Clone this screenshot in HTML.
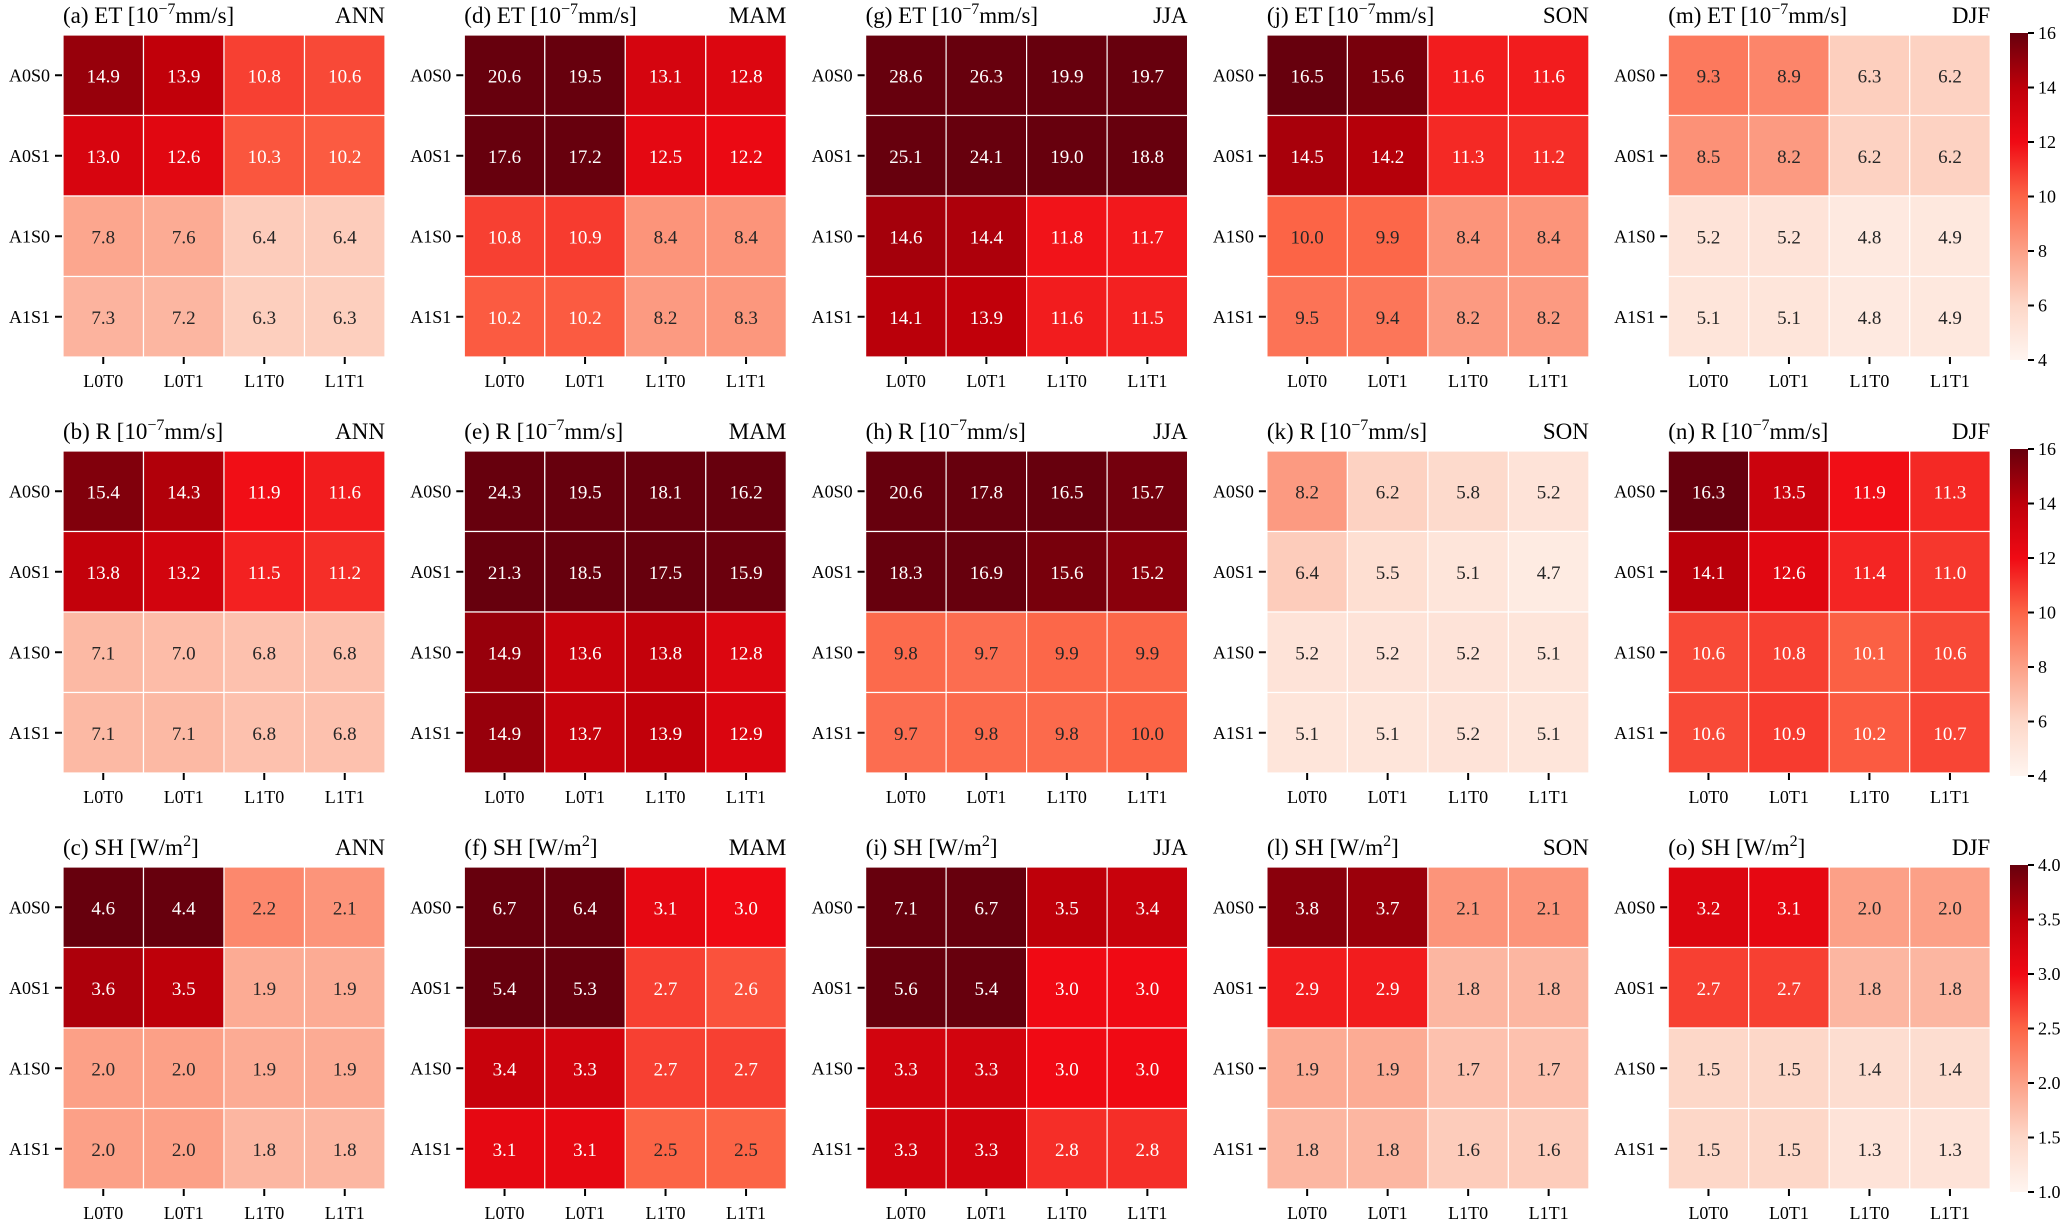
<!DOCTYPE html>
<html><head><meta charset="utf-8"><style>
body{margin:0;background:#fff}
svg{display:block;font-family:"Liberation Serif",serif}
</style></head><body>
<svg id="fig" width="2067" height="1221" viewBox="0 0 2067 1221"></svg>
<script>
const rowsLab=["A0S0","A0S1","A1S0","A1S1"];
const colsLab=["L0T0","L0T1","L1T0","L1T1"];
const seasons=["ANN","MAM","JJA","SON","DJF"];
const vars=["ET","R","SH"];
const etANN=[[14.9,13.9,10.8,10.6],[13.0,12.6,10.3,10.2],[7.8,7.6,6.4,6.4],[7.3,7.2,6.3,6.3]];
const etMAM=[[20.6,19.5,13.1,12.8],[17.6,17.2,12.5,12.2],[10.8,10.9,8.4,8.4],[10.2,10.2,8.2,8.3]];
const etJJA=[[28.6,26.3,19.9,19.7],[25.1,24.1,19.0,18.8],[14.6,14.4,11.8,11.7],[14.1,13.9,11.6,11.5]];
const etSON=[[16.5,15.6,11.6,11.6],[14.5,14.2,11.3,11.2],[10.0,9.9,8.4,8.4],[9.5,9.4,8.2,8.2]];
const etDJF=[[9.3,8.9,6.3,6.2],[8.5,8.2,6.2,6.2],[5.2,5.2,4.8,4.9],[5.1,5.1,4.8,4.9]];
const rANN=[[15.4,14.3,11.9,11.6],[13.8,13.2,11.5,11.2],[7.1,7.0,6.8,6.8],[7.1,7.1,6.8,6.8]];
const rMAM=[[24.3,19.5,18.1,16.2],[21.3,18.5,17.5,15.9],[14.9,13.6,13.8,12.8],[14.9,13.7,13.9,12.9]];
const rJJA=[[20.6,17.8,16.5,15.7],[18.3,16.9,15.6,15.2],[9.8,9.7,9.9,9.9],[9.7,9.8,9.8,10.0]];
const rSON=[[8.2,6.2,5.8,5.2],[6.4,5.5,5.1,4.7],[5.2,5.2,5.2,5.1],[5.1,5.1,5.2,5.1]];
const rDJF=[[16.3,13.5,11.9,11.3],[14.1,12.6,11.4,11.0],[10.6,10.8,10.1,10.6],[10.6,10.9,10.2,10.7]];
const shANN=[[4.6,4.4,2.2,2.1],[3.6,3.5,1.9,1.9],[2.0,2.0,1.9,1.9],[2.0,2.0,1.8,1.8]];
const shMAM=[[6.7,6.4,3.1,3.0],[5.4,5.3,2.7,2.6],[3.4,3.3,2.7,2.7],[3.1,3.1,2.5,2.5]];
const shJJA=[[7.1,6.7,3.5,3.4],[5.6,5.4,3.0,3.0],[3.3,3.3,3.0,3.0],[3.3,3.3,2.8,2.8]];
const shSON=[[3.8,3.7,2.1,2.1],[2.9,2.9,1.8,1.8],[1.9,1.9,1.7,1.7],[1.8,1.8,1.6,1.6]];
const shDJF=[[3.2,3.1,2.0,2.0],[2.7,2.7,1.8,1.8],[1.5,1.5,1.4,1.4],[1.5,1.5,1.3,1.3]];
const etTicks=[4,6,8,10,12,14,16];
const shTicks=[1.0,1.5,2.0,2.5,3.0,3.5,4.0];
const ranges=[[4,16],[4,16],[1,4]];
const data=[[etANN,etMAM,etJJA,etSON,etDJF],[rANN,rMAM,rJJA,rSON,rDJF],[shANN,shMAM,shJJA,shSON,shDJF]];

const NS="http://www.w3.org/2000/svg";
const svg=document.getElementById('fig');
const reds=[[255,245,240],[253,215,200],[252,160,135],[252,100,70],[240,10,20],[190,0,10],[103,0,13]];
const N=reds.length-1;
function cmap(t){t=Math.max(0,Math.min(1,t));const p=t*N,i=Math.min(N-1,Math.floor(p)),f=p-i;
 return reds[i].map((c,k)=>Math.round(c+(reds[i+1][k]-c)*f));}
function lum(c){const l=c.map(v=>{v/=255;return v<=0.03928?v/12.92:Math.pow((v+0.055)/1.055,2.4)});return 0.2126*l[0]+0.7152*l[1]+0.0722*l[2];}
function el(tag,attrs,parent){const e=document.createElementNS(NS,tag);for(const k in attrs)e.setAttribute(k,attrs[k]);(parent||svg).appendChild(e);return e;}
const X0=63,DX=401.3,Y0=35,DY=416,S=322,cs=S/4;
const letters="abcdefghijklmno";
const units=[["ET","10","−7","mm/s"],["R","10","−7","mm/s"],["SH","W/m","2",""]];
for(let r=0;r<3;r++){
 const [lo,hi]=ranges[r];
 for(let c=0;c<5;c++){
  const x0=X0+c*DX,y0=Y0+r*DY;
  const g=el('g',{});
  
  
  const M=data[r][c];
  for(let i=0;i<4;i++)for(let j=0;j<4;j++){
   const v=M[i][j];const col=cmap((v-lo)/(hi-lo));
   const rc=el('rect',{x:x0+j*cs,y:y0+i*cs,width:cs,height:cs,fill:`rgb(${col})`,stroke:'#fff','stroke-width':1.2},g);
   
   
   const t=el('text',{x:x0+j*cs+cs/2,y:y0+i*cs+cs/2+7,'text-anchor':'middle','font-size':19,fill:lum(col)>0.3?'#262626':'#fff'},g);
   t.textContent=v.toFixed(1);
   
   
  }
  for(let i=0;i<4;i++){
   const yy=y0+i*cs+cs/2;
   el('line',{x1:x0-8,x2:x0-1,y1:yy,y2:yy,stroke:'#000','stroke-width':2},g);
   const t=el('text',{x:x0-13,y:yy+6,'text-anchor':'end','font-size':18},g);t.textContent=rowsLab[i];
   
   
  }
  for(let j=0;j<4;j++){
   const xx=x0+j*cs+cs/2;
   el('line',{x1:xx,x2:xx,y1:y0+S,y2:y0+S+7,stroke:'#000','stroke-width':2},g);
   const t=el('text',{x:xx,y:y0+S+30,'text-anchor':'middle','font-size':18},g);t.textContent=colsLab[j];
   
   
  }
  const u=units[r];
  const tt=el('text',{x:x0,y:y0-12,'font-size':23},g);
  
  
  tt.innerHTML=`(${letters[c*3+r]}) ${u[0]} [${u[1]}<tspan dy="-9" font-size="16">${u[2]}</tspan><tspan dy="9">${u[3]}]</tspan>`;
  const st=el('text',{x:x0+S,y:y0-12,'text-anchor':'end','font-size':23},g);st.textContent=seasons[c];
  
  
 }
 const cx=2010,cw=18,cy=Y0+r*DY-2,ch=S+5;
 const cg=el('g',{});
 
 
 const gid='grad'+r;const lg=el('linearGradient',{id:gid,x1:0,y1:1,x2:0,y2:0},el('defs',{},cg));
 for(let k=0;k<=N;k++)el('stop',{offset:k/N,'stop-color':`rgb(${reds[k]})`},lg);
 el('rect',{x:cx,y:cy,width:cw,height:ch,fill:`url(#${gid})`},cg);
 const ticks=r<2?etTicks:shTicks;
 ticks.forEach(tv=>{const yy=cy+ch-(tv-lo)/(hi-lo)*ch;
  el('line',{x1:cx+cw,x2:cx+cw+6,y1:yy,y2:yy,stroke:'#000','stroke-width':2},cg);
  const t=el('text',{x:cx+cw+10,y:yy+6,'font-size':18},cg);t.textContent=r<2?tv:tv.toFixed(1);
  
  
 });
}
</script>
</body></html>
